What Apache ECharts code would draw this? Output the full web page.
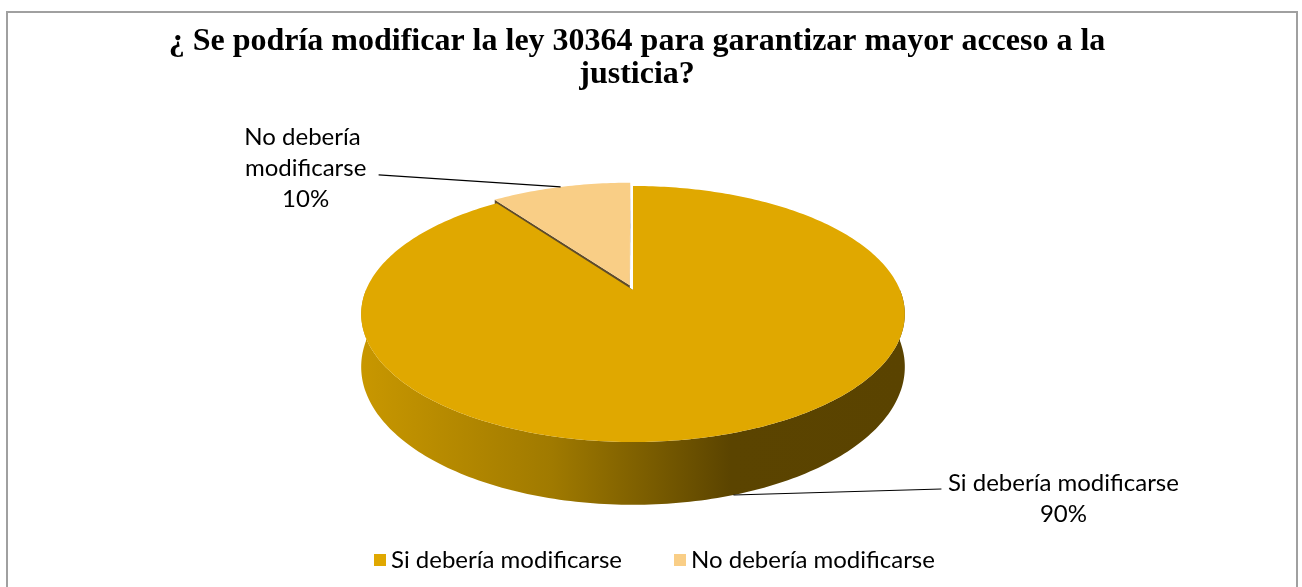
<!DOCTYPE html>
<html>
<head>
<meta charset="utf-8">
<script src="https://cdn.jsdelivr.net/npm/echarts@6/dist/echarts.min.js"></script>
<style>
  html, body { margin: 0; padding: 0; background: #fff; }
  #chart { width: 1302px; height: 587px; }
</style>
</head>
<body>
<div id="chart"></div>
<script>
// datos
var categories = ['Si debería modificarse', 'No debería modificarse']
var values = [90, 10]
var colors = ['#E0A800', '#F9CE86']
var explode = [0, 0.04]          // separación de la porción (fracción del radio)
var labelWidth = [280, 150]       // ancho del texto de la etiqueta antes de cortar

var titleText = '¿ Se podría modificar la ley 30364 para garantizar mayor acceso a la\njusticia?'

// geometría del "pie 3D" (perspectiva simple)
var geo = { cx: 633, cy: 290, R: 267, K: 123.5, p: 0.1875, H: 51 }

var total = values.reduce(function (a, b) { return a + b }, 0)

function proj(u, v, drop) {
    var w = 1 + geo.p * v
    return [geo.cx + geo.R * u / w, geo.cy - geo.K * v / w + (drop || 0) / w]
}
function rad(deg) { return deg * Math.PI / 180 }
function arcPoints(a0, a1, ou, ov, drop) {
    var pts = []
    var n = Math.max(2, Math.ceil(Math.abs(a1 - a0)))
    for (var i = 0; i <= n; i++) {
        var t = rad(a0 + (a1 - a0) * i / n)
        pts.push(proj(ou + Math.sin(t), ov + Math.cos(t), drop))
    }
    return pts
}

var wallGradient = new echarts.graphic.LinearGradient(0, 0, 1, 0, [
    { offset: 0, color: '#C89700' },
    { offset: 0.35, color: '#A07A00' },
    { offset: 0.68, color: '#5B4400' },
    { offset: 1, color: '#5A4300' }
])

function renderSlice(idx) {
    return function (params, api) {
        var start = 0
        for (var i = 0; i < idx; i++) start += values[i] / total * 360
        var end = start + values[idx] / total * 360
        var mid = (start + end) / 2
        var ou = explode[idx] * Math.sin(rad(mid))
        var ov = explode[idx] * Math.cos(rad(mid))
        var children = []

        // pared exterior (sólo la parte delantera)
        var s = Math.max(start, 90), e = Math.min(end, 270)
        if (e > s) {
            var top = arcPoints(s, e, ou, ov, 0)
            var bot = arcPoints(s, e, ou, ov, geo.H).reverse()
            children.push({
                type: 'polygon', z2: 1,
                shape: { points: top.concat(bot) },
                style: { fill: wallGradient }
            })
        }
        // caras radiales
        ;[start, end].forEach(function (a) {
            var t = rad(a)
            var c = proj(ou, ov, 0), r = proj(ou + Math.sin(t), ov + Math.cos(t), 0)
            var rb = proj(ou + Math.sin(t), ov + Math.cos(t), geo.H), cb = proj(ou, ov, geo.H)
            children.push({
                type: 'polygon', z2: 1,
                shape: { points: [c, r, rb, cb] },
                style: { fill: '#5E4B2A' }
            })
        })
        // cara superior
        var face = [proj(ou, ov, 0)].concat(arcPoints(start, end, ou, ov, 0))
        children.push({
            type: 'polygon', z2: 10,
            shape: { points: face },
            style: { fill: colors[idx] }
        })

        // etiqueta con línea guía
        var t = rad(mid)
        var front = Math.cos(t) < 0
        var anchor = proj(ou + Math.sin(t), ov + Math.cos(t), front ? geo.H : 0)
        var left = Math.sin(t) < 0
        var endPt = left ? [anchor[0] - 182, anchor[1] - 12] : [anchor[0] + 208, anchor[1] - 6]
        children.push({
            type: 'polyline', z2: 20,
            shape: { points: [anchor, endPt] },
            style: { stroke: '#000', lineWidth: 1.2, fill: null }
        })
        var pct = Math.round(values[idx] / total * 100) + '%'
        children.push({
            type: 'text', z2: 20,
            x: left ? endPt[0] - 73 : endPt[0] + 122,
            y: left ? endPt[1] - 7 : endPt[1] + 10,
            style: {
                text: categories[idx] + '\n' + pct,
                width: labelWidth[idx],
                overflow: 'break',
                align: 'center',
                verticalAlign: 'middle',
                fontFamily: 'Lato',
                fontSize: 24,
                lineHeight: 31,
                fill: '#000'
            }
        })
        return { type: 'group', children: children }
    }
}

var chart = echarts.init(document.getElementById('chart'))
var option = {
    animation: false,
    backgroundColor: '#fff',
    color: colors,
    title: {
        text: titleText,
        left: 632,
        top: 20,
        textAlign: 'center',
        textStyle: {
            fontFamily: 'Liberation Serif',
            fontWeight: 'bold',
            fontSize: 32,
            lineHeight: 33,
            color: '#000'
        }
    },
    legend: {
        data: categories,
        left: 369,
        top: 543,
        icon: 'rect',
        itemWidth: 12,
        itemHeight: 12,
        itemGap: 52,
        textStyle: { fontFamily: 'Lato', fontSize: 24, color: '#000' }
    },
    graphic: [{
        type: 'rect',
        shape: { x: 7, y: 12, width: 1290, height: 600 },
        style: { fill: null, stroke: '#A0A0A0', lineWidth: 2 },
        silent: true
    }],
    series: categories.map(function (name, idx) {
        return {
            type: 'custom',
            name: name,
            coordinateSystem: 'none',
            itemStyle: { color: colors[idx] },
            data: [values[idx]],
            renderItem: renderSlice(idx)
        }
    })
}
chart.setOption(option)
</script>
</body>
</html>
